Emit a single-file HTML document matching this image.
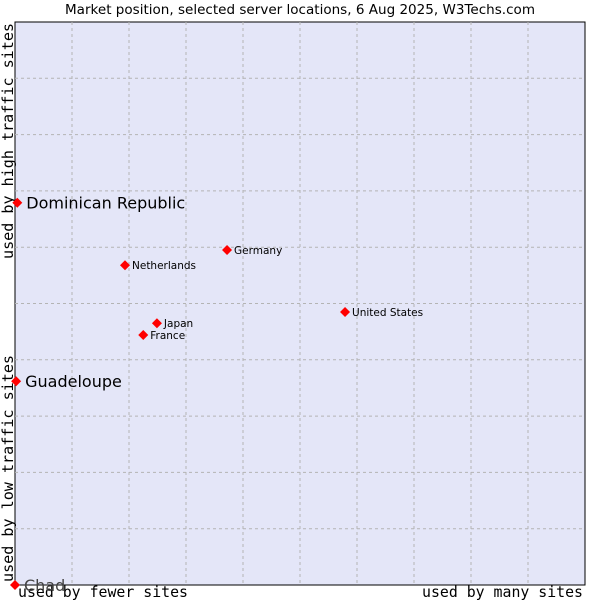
<!DOCTYPE html>
<html><head><meta charset="utf-8"><style>
body{margin:0;background:#fff;width:600px;height:600px;overflow:hidden}
svg text{font-family:"DejaVu Sans",sans-serif}
.mono{font-family:"DejaVu Sans Mono",monospace}
</style></head><body>
<svg id="chart" width="600" height="600" xmlns="http://www.w3.org/2000/svg">
<text x="65" y="14" textLength="470" lengthAdjust="spacingAndGlyphs" font-size="13" fill="#000">Market position, selected server locations, 6 Aug 2025, W3Techs.com</text>
<rect x="15" y="22" width="570" height="563" fill="#e4e6f8" stroke="#000" stroke-width="1"/>
<g id="grid"></g>
<text class="mono" x="18" y="597" textLength="170" lengthAdjust="spacingAndGlyphs" font-size="15">used by fewer sites</text>
<text class="mono" x="422" y="597" textLength="161" lengthAdjust="spacingAndGlyphs" font-size="15">used by many sites</text>
<text class="mono" transform="translate(13,582) rotate(-90)" textLength="227" lengthAdjust="spacingAndGlyphs" font-size="15">used by low traffic sites</text>
<text class="mono" transform="translate(13,259) rotate(-90)" textLength="236" lengthAdjust="spacingAndGlyphs" font-size="15">used by high traffic sites</text>
<g id="points"></g>
</svg>
<script>
const names=["Chad","Guadeloupe","Dominican Republic","Netherlands","Germany","Japan","France","United States"];
const xs=[0,0.2,0.4,19.3,37.2,24.9,22.5,57.9];
const ys=[0,36.2,67.9,56.8,59.5,46.5,44.4,48.5];
const big=[true,true,true,false,false,false,false,false];
const L=15,T=22,W=570,H=563;
const sx=v=>L+v/100*W, sy=v=>T+H-v/100*H;
const NS="http://www.w3.org/2000/svg";
const g=document.getElementById('grid');
for(let i=1;i<10;i++){
  const x=L+i*W/10, y=T+i*H/10;
  const a=document.createElementNS(NS,'line');
  
  
  a.setAttribute('x1',x);a.setAttribute('x2',x);a.setAttribute('y1',T);a.setAttribute('y2',T+H);
  a.setAttribute('stroke','#b4b4b4');a.setAttribute('stroke-dasharray','3,3');g.appendChild(a);
  const b=document.createElementNS(NS,'line');
  
  
  b.setAttribute('x1',L);b.setAttribute('x2',L+W);b.setAttribute('y1',y);b.setAttribute('y2',y);
  b.setAttribute('stroke','#b4b4b4');b.setAttribute('stroke-dasharray','3,3');g.appendChild(b);
}
const p=document.getElementById('points');
names.forEach((n,i)=>{
  const x=sx(xs[i]), y=sy(ys[i]);
  const d=document.createElementNS(NS,'polygon');
  
  
  d.setAttribute('points',`${x},${y-5} ${x+5},${y} ${x},${y+5} ${x-5},${y}`);
  d.setAttribute('fill','#ff0000');p.appendChild(d);
  const t=document.createElementNS(NS,'text');
  
  
  t.setAttribute('x',x+(big[i]?9:7));t.setAttribute('y',y+(big[i]?6:4));
  t.setAttribute('font-size',big[i]?16:10.5);
  t.setAttribute('fill',n==="Chad"?'#444':'#000');
  t.textContent=n;p.appendChild(t);
});
</script>
</body></html>
